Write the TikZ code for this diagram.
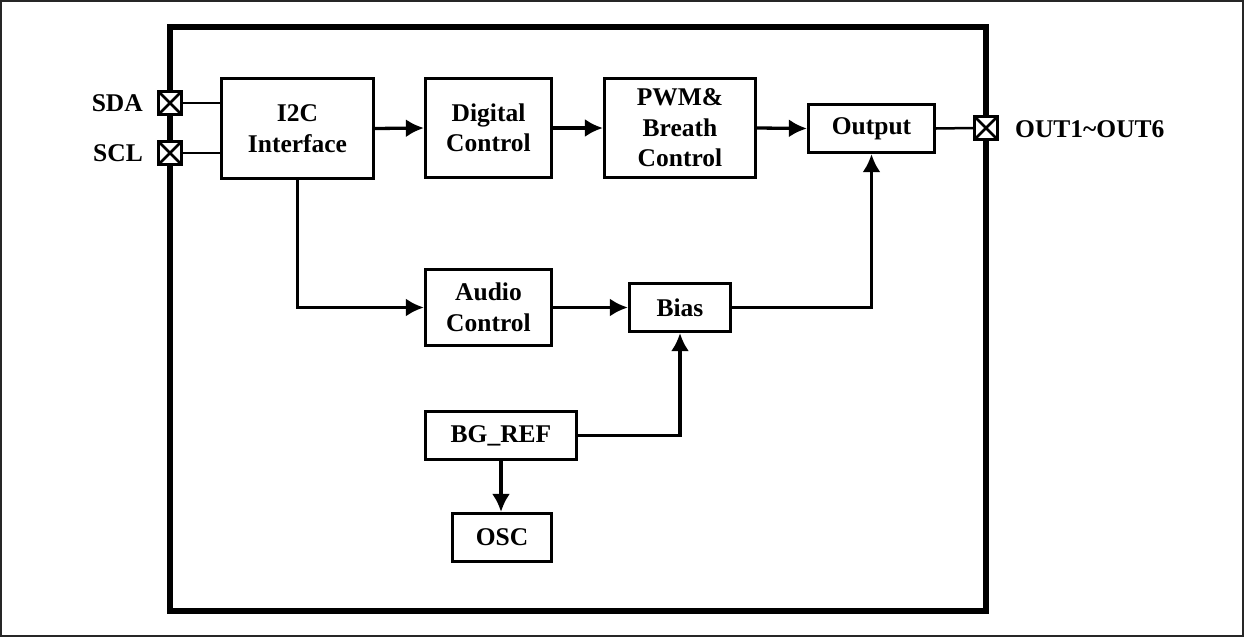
\documentclass[tikz,border=0pt]{standalone}
\usepackage{fontspec}
\setmainfont{Liberation Serif}
\usetikzlibrary{arrows.meta}
\tikzset{
  blk/.style={draw, line width=3.2pt, fill=white, inner sep=0pt, align=center,
    font=\fontsize{25.5}{30.5}\selectfont\bfseries},
  pinbox/.style={draw, line width=3pt, fill=white, minimum size=23pt, inner sep=0pt,
    path picture={\draw[line width=2.5pt] (path picture bounding box.north west) -- (path picture bounding box.south east)
      (path picture bounding box.north east) -- (path picture bounding box.south west);}},
  lbl/.style={inner sep=0pt, font=\fontsize{25.5}{30}\selectfont\bfseries},
  wire/.style={line width=2.5pt},
  arr/.style={line width=3.3pt, -{Latex[length=18pt,width=18pt]}},
}
\begin{document}
\begin{tikzpicture}[x=1pt,y=-1pt]
\useasboundingbox (0,0) rectangle (1244,637);
% outer frame
\draw[line width=2pt, black!85] (1,1) rectangle (1243,636);
% chip border
\draw[line width=5.5pt] (170,27) rectangle (986,611);
% blocks
\node[blk, minimum width=152pt, minimum height=100pt] (i2c) at (297.5,128.5) {I2C\\Interface};
\node[blk, minimum width=126pt, minimum height=99pt] (dig) at (488.5,128) {Digital\\Control};
\node[blk, minimum width=151pt, minimum height=99pt] (pwm) at (680,128) {PWM\&\\Breath\\Control};
\node[blk, minimum width=126pt, minimum height=48pt] (out) at (871.5,128.5) {Output};
\node[blk, minimum width=126pt, minimum height=76pt] (aud) at (488.5,307.5) {Audio\\Control};
\node[blk, minimum width=101pt, minimum height=48pt] (bias) at (680,307.5) {Bias};
\node[blk, minimum width=151pt, minimum height=48pt] (bg) at (501,435.5) {BG\_REF};
\node[blk, minimum width=99pt, minimum height=48pt] (osc) at (502,537.5) {OSC};
% pins
\node[pinbox] (sda) at (170,103) {};
\node[pinbox] (scl) at (170,153) {};
\node[pinbox] (op) at (986,128) {};
\node[lbl, anchor=east] (sdal) at (143,103) {SDA};
\node[lbl, anchor=east] (scll) at (143,153) {SCL};
\node[lbl, anchor=west] (opl) at (1015,129) {OUT1\textasciitilde OUT6};
% connectors
\draw[wire] (sda.east) -- (sda.east -| i2c.west);
\draw[wire] (scl.east) -- (scl.east -| i2c.west);
\draw[wire] (out.east) -- (op.west);
\draw[arr] (i2c.east) -- (dig.west);
\draw[arr] (dig.east) -- (pwm.west);
\draw[arr] (pwm.east) -- (out.west);
\draw[arr] (i2c.south) |- (aud.west);
\draw[arr] (aud.east) -- (bias.west);
\draw[arr] (bg.east) -| (bias.south);
\draw[arr] (bias.east) -| (out.south);
\draw[arr] (bg.south) -- (bg.south |- osc.north);
\end{tikzpicture}
\end{document}
